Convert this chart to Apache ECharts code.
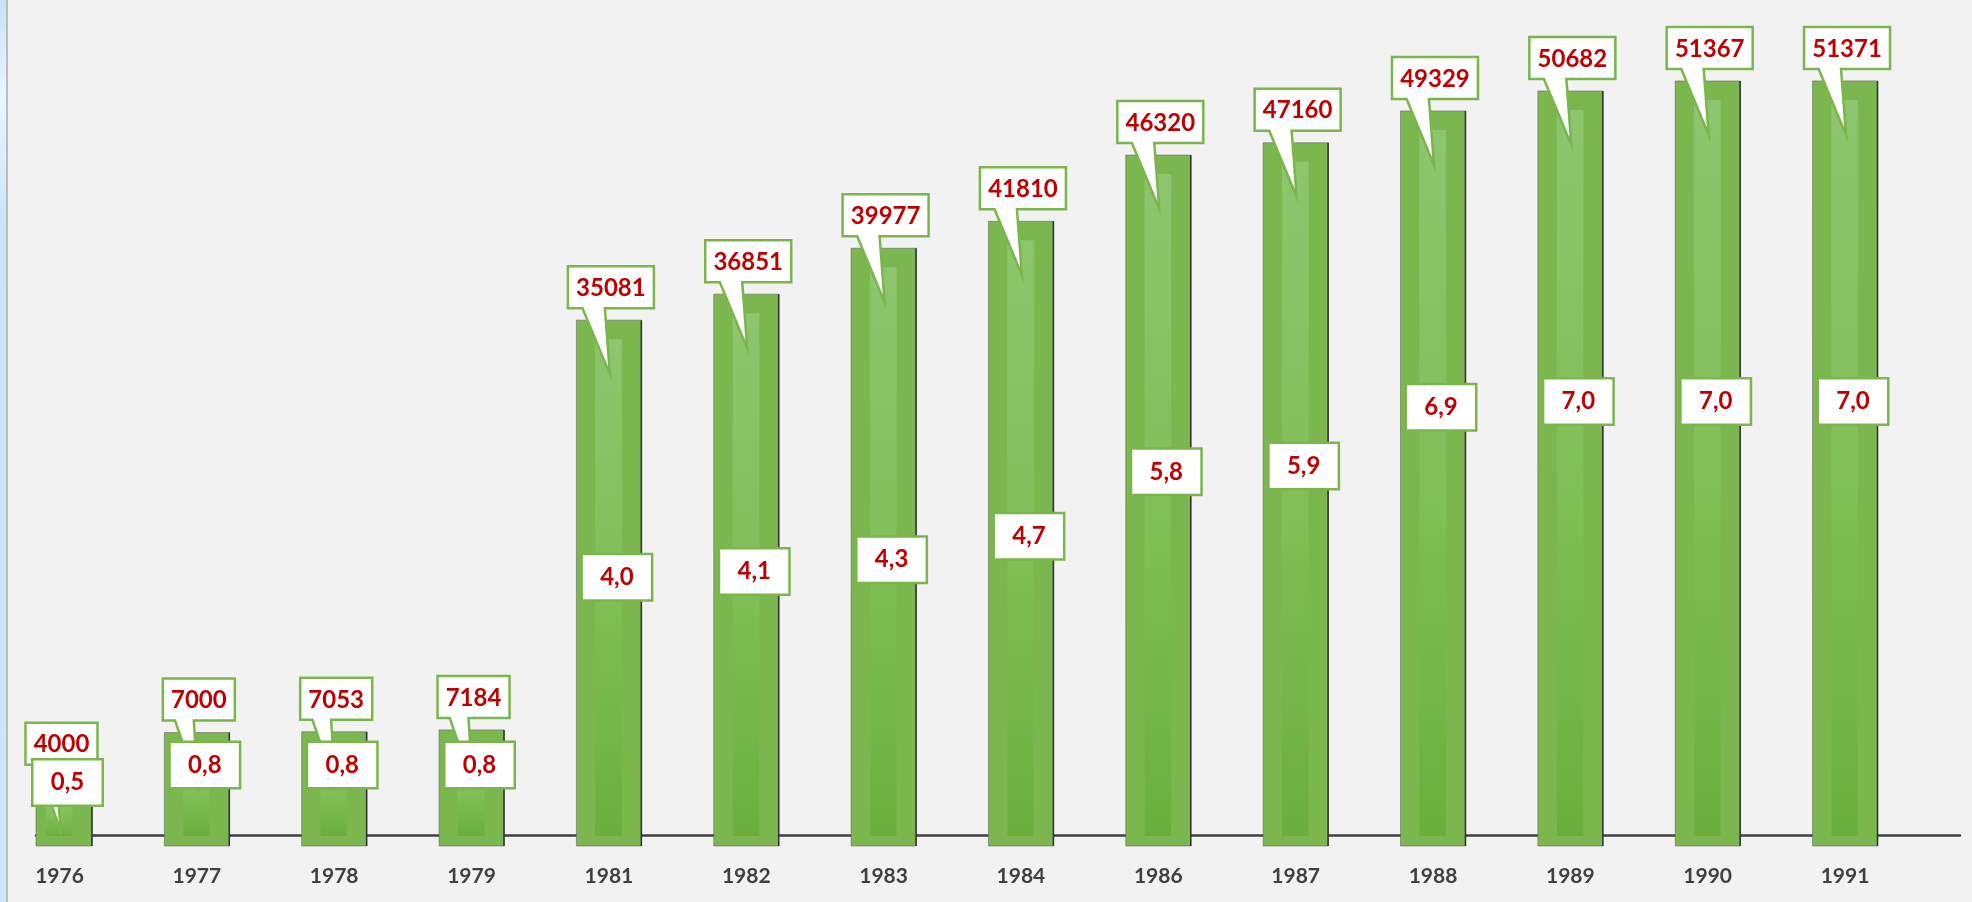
<!DOCTYPE html>
<html>
<head>
<meta charset="utf-8">
<title>1976-1991</title>
<script src="https://cdn.jsdelivr.net/npm/echarts@6/dist/echarts.min.js"></script>
<style>
html, body {
    margin: 0;
    padding: 0;
    width: 1972px;
    height: 902px;
    overflow: hidden;
    background: linear-gradient(160deg, #c6e4f7 0%, #eaf6fd 6%, #c9e5f8 14%, #d2eafa 100%);
}
#container {
    position: absolute;
    left: 6px;
    top: 0;
    width: 1964px;
    height: 902px;
    border-left: 2px solid #bdbdbd;
    background: #f2f2f2;
}
</style>
</head>
<body>
<div id="container"></div>
<script>
// data
var years = ['1976', '1977', '1978', '1979', '1981', '1982', '1983', '1984', '1986', '1987', '1988', '1989', '1990', '1991'];
var amounts = [4000, 7000, 7053, 7184, 35081, 36851, 39977, 41810, 46320, 47160, 49329, 50682, 51367, 51371];
var rates = [0.5, 0.8, 0.8, 0.8, 4.0, 4.1, 4.3, 4.7, 5.8, 5.9, 6.9, 7.0, 7.0, 7.0];

var GREEN = '#7ab64c';
var RED = '#c00000';
var FONT = 'Lato, "Open Sans", sans-serif';

var barData = [];
var rateData = [];
var yearIdx = [];
for (var i = 0; i < years.length; i++) {
    barData.push([i, amounts[i]]);
    rateData.push([i, rates[i]]);
    yearIdx.push(i);
}

// bar with the lighter stripe in the middle
function renderBar(params, api) {
    var cs = params.coordSys;
    var top = api.coord([api.value(0), api.value(1)]);
    var baseY = cs.y + cs.height;
    var w = api.size([1, 0])[0] * 0.473;
    var x0 = top[0] - w / 2;
    var x1 = top[0] + w / 2;
    var cx0 = Math.max(x0, cs.x); // first bar is cut by the plot edge
    var sx0 = Math.max(x0 + w * 0.29, cs.x);
    var sx1 = x0 + w * 0.70;
    return {
        type: 'group',
        children: [{
            type: 'rect',
            shape: { x: cx0, y: top[1], width: x1 - cx0, height: baseY - top[1] },
            style: { fill: '#7bb74e', stroke: 'rgba(95,95,95,0.55)', lineWidth: 1 }
        }, {
            type: 'rect',
            shape: { x: sx0, y: top[1] + 19, width: sx1 - sx0, height: Math.max(baseY - top[1] - 29, 0) },
            style: {
                fill: new echarts.graphic.LinearGradient(0, 0, 0, 1, [
                    { offset: 0, color: '#8dc66d' },
                    { offset: 0.55, color: '#80be56' },
                    { offset: 1, color: '#6aaf3e' }
                ])
            }
        }, {
            type: 'line',
            shape: { x1: x1, y1: top[1], x2: x1, y2: baseY },
            style: { stroke: '#2f2f2f', lineWidth: 1.5 }
        }]
    };
}

// speech bubble with the value, pointing into the bar
function renderCallout(params, api) {
    var top = api.coord([api.value(0), api.value(1)]);
    var text = String(amounts[params.dataIndex]);
    var w = 14 * text.length + 16;
    var h = 42;
    var left = top[0] + 2 - w / 2;
    var t = top[1] - 12 - h;
    var b = t + h;
    var tipX = top[0] + 1;
    var tipY = top[1] + 54;
    return {
        type: 'group',
        children: [{
            type: 'polygon',
            shape: {
                points: [[left, t], [left + w, t], [left + w, b], [left + w * 0.43, b],
                    [tipX, tipY], [left + w * 0.17, b], [left, b]]
            },
            style: { fill: '#ffffff', stroke: GREEN, lineWidth: 2.5, lineJoin: 'miter' }
        }, {
            type: 'text',
            x: left + w / 2,
            y: t + h / 2 + 1,
            style: {
                text: text,
                fill: RED,
                font: 'bold 24px ' + FONT,
                align: 'center',
                verticalAlign: 'middle'
            }
        }]
    };
}

var dom = document.getElementById('container');
var myChart = echarts.init(dom, null, { renderer: 'canvas' });

var option = {
    animation: false,
    backgroundColor: '#f2f2f2',
    grid: {
        left: 28,
        right: 12,
        top: 10,
        bottom: 56
    },
    xAxis: {
        type: 'value',
        min: -0.171,
        max: 13.837,
        splitLine: { show: false },
        axisTick: { show: false },
        axisLine: {
            show: true,
            lineStyle: { color: '#404040', width: 2.5 }
        },
        axisLabel: {
            customValues: yearIdx,
            formatter: function (v) {
                return years[Math.round(v)];
            },
            color: '#404040',
            fontWeight: 'bold',
            fontSize: 21,
            fontFamily: FONT,
            margin: 20
        }
    },
    yAxis: [{
        type: 'value',
        min: -722,
        max: 56199,
        show: false
    }, {
        type: 'value',
        min: -0.584,
        max: 13.68,
        show: false
    }],
    series: [{
        name: 'bars',
        type: 'custom',
        z: 2,
        renderItem: renderBar,
        encode: { x: 0, y: 1 },
        data: barData
    }, {
        name: 'amounts',
        type: 'custom',
        z: 3,
        renderItem: renderCallout,
        encode: { x: 0, y: 1 },
        data: barData
    }, {
        name: 'rates',
        type: 'scatter',
        yAxisIndex: 1,
        z: 4,
        symbolSize: 1,
        itemStyle: { color: 'rgba(0,0,0,0)', opacity: 1 },
        label: {
            show: true,
            opacity: 1,
            position: 'inside',
            offset: [8, 0],
            formatter: function (p) {
                return p.value[1].toFixed(1).replace('.', ',');
            },
            width: 68,
            height: 44,
            lineHeight: 44,
            align: 'center',
            backgroundColor: '#ffffff',
            borderColor: GREEN,
            borderWidth: 2.5,
            color: RED,
            fontWeight: 'bold',
            fontSize: 24,
            fontFamily: FONT
        },
        data: rateData
    }]
};

if (option && typeof option === "object") {
    myChart.setOption(option, true);
}
</script>
</body>
</html>
